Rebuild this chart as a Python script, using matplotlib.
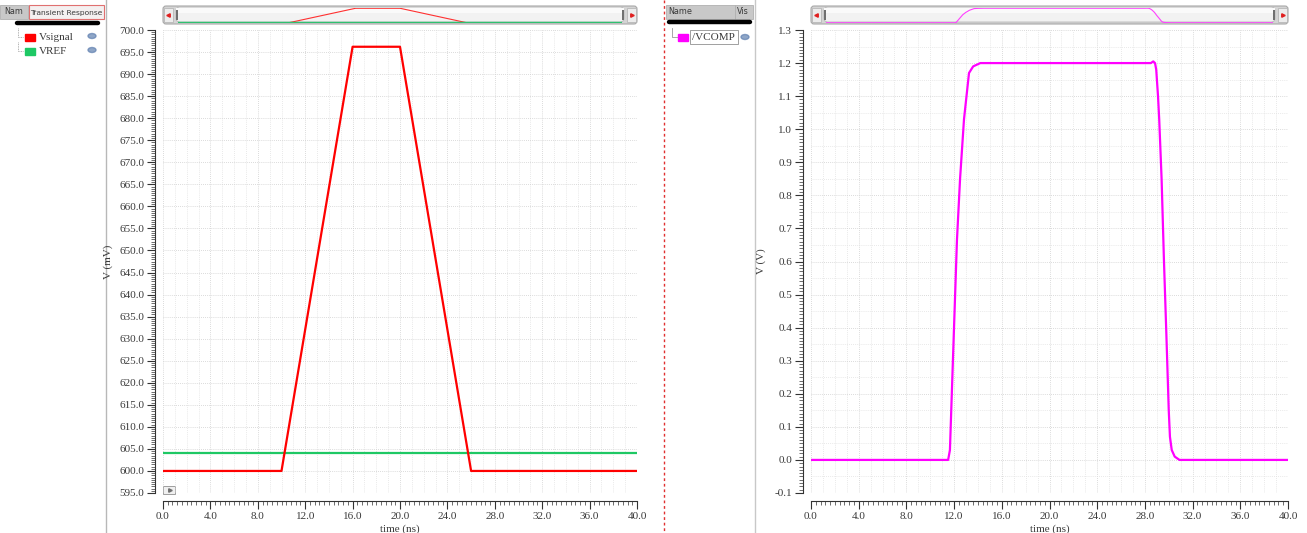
import matplotlib
matplotlib.use("Agg")
import matplotlib.pyplot as plt
from matplotlib.patches import Rectangle, FancyBboxPatch, Ellipse
from matplotlib.ticker import MultipleLocator, AutoMinorLocator, FormatStrFormatter

# ---------------- data ----------------
t_sig = [0.0, 10.0, 16.0, 20.0, 26.0, 40.0]
v_sig = [600.0, 600.0, 696.2, 696.2, 600.0, 600.0]          # mV
t_ref = [0.0, 40.0]
v_ref = [604.0, 604.0]                                      # mV
t_comp = [0.0, 11.5, 11.65, 11.9, 12.24, 12.5, 12.83, 13.25, 13.6, 14.2,
          28.5, 28.7, 28.85, 28.95, 29.1, 29.2, 29.4, 29.6, 29.8, 30.0,
          30.1, 30.25, 30.5, 30.9, 40.0]
v_comp = [0.0, 0.0, 0.03, 0.30, 0.665, 0.85, 1.03, 1.17, 1.19, 1.2,
          1.2, 1.205, 1.2, 1.18, 1.10, 1.03, 0.85, 0.60, 0.38, 0.15,
          0.07, 0.03, 0.01, 0.0, 0.0]
left_names = ["Vsignal", "VREF"]
left_colors = ["#ff0000", "#1ec864"]
right_names = ["/VCOMP"]
right_colors = ["#ff00ff"]

W, H = 1307, 533
plt.rcParams['font.family'] = ['Liberation Serif', 'DejaVu Serif']
fig = plt.figure(figsize=(W / 100, H / 100), dpi=100)
fig.patch.set_facecolor("white")

def rect(x0, y0, x1, y1):
    return [x0 / W, 1 - y1 / H, (x1 - x0) / W, (y1 - y0) / H]

# overlay for decorations (pixel coordinates)
ov = fig.add_axes([0, 0, 1, 1])
ov.axis('off')

TXT = "#3a3a3a"
FS = 8

# ---- separators ----
ov.plot([106, 106], [0, H], color="#b8b8b8", lw=1)
ov.plot([664, 664], [0, H], color="#e03030", lw=1, ls=(0, (2, 2)))
ov.plot([755, 755], [0, H], color="#c8c8c8", lw=1)

# ---- left legend panel ----
ov.add_patch(Rectangle((0, 5), 28, 14, fc="#c8c8c8", ec="#b0b0b0", lw=0.6))
ov.text(14, 12, "Nam", fontsize=5.8, ha="center", va="center", color=TXT, family="DejaVu Sans")
ov.add_patch(Rectangle((29, 5), 75, 14, fc="#f4f0f0", ec="#e07070", lw=0.8))
ov.text(66.5, 12.5, "Transient Response", fontsize=5.4, ha="center", va="center", color=TXT, family="DejaVu Sans")
ov.plot([17, 98], [23, 23], color="black", lw=3.2, solid_capstyle="round")
for i, (nm, c) in enumerate(zip(left_names, left_colors)):
    y = 37 + i * 14
    ov.plot([18, 18, 23], [y - 9, y, y], color="#999999", lw=0.6, ls=(0, (1, 1)))
    ov.add_patch(Rectangle((25, y - 3.5), 10, 7, fc=c, ec=c))
    ov.text(39, y, nm, fontsize=FS, va="center", ha="left", color=TXT)
    ov.add_patch(Ellipse((92, y - 1), 8, 5, fc="#6080b0", ec="#6080b0", alpha=0.7))

# ---- right legend panel ----
ov.add_patch(Rectangle((666, 5), 69, 14, fc="#c8c8c8", ec="#b0b0b0", lw=0.6))
ov.text(668, 12, "Name", fontsize=5.8, ha="left", va="center", color=TXT, family="DejaVu Sans")
ov.add_patch(Rectangle((735, 5), 18, 14, fc="#c8c8c8", ec="#b0b0b0", lw=0.6))
ov.text(737, 12, "Vis", fontsize=5.8, ha="left", va="center", color=TXT, family="DejaVu Sans")
ov.plot([669, 750], [22, 22], color="black", lw=3.2, solid_capstyle="round")
for i, (nm, c) in enumerate(zip(right_names, right_colors)):
    y = 37 + i * 14
    ov.plot([672, 672, 677], [y - 9, y, y], color="#999999", lw=0.6)
    ov.add_patch(Rectangle((678, y - 3.5), 10, 7, fc=c, ec=c))
    ov.add_patch(Rectangle((690, y - 7), 48, 14, fc="white", ec="#909090", lw=0.6))
    ov.text(692, y, nm, fontsize=FS, va="center", ha="left", color=TXT)
    ov.add_patch(Ellipse((745, y), 8, 5, fc="#6080b0", ec="#6080b0", alpha=0.7))

# ---- scroll bars ----
def scrollbar(x0, x1):
    ov.add_patch(FancyBboxPatch((x0, 6), x1 - x0, 18, boxstyle="round,pad=0,rounding_size=3",
                                fc="#d4d4d4", ec="#a8a8a8", lw=0.8))
    ov.add_patch(FancyBboxPatch((x0 + 13, 7), x1 - x0 - 26, 15, boxstyle="round,pad=0,rounding_size=4",
                                fc="#f2f2f2", ec="#b8b8b8", lw=0.6))
    ov.add_patch(Rectangle((x0 + 13, 8), x1 - x0 - 26, 5, fc="#fafafa", ec="none"))
    ov.add_patch(Rectangle((x0 + 1, 8), 9, 14, fc="#ececec", ec="#b0b0b0", lw=0.5))
    ov.add_patch(Rectangle((x1 - 10, 8), 9, 14, fc="#ececec", ec="#b0b0b0", lw=0.5))
    ov.plot([x0 + 5], [15], marker="<", ms=2.5, color="#e02020")
    ov.plot([x1 - 5], [15], marker=">", ms=2.5, color="#e02020")
    ov.add_patch(Rectangle((x0 + 13, 10), 2, 10, fc="#707070", ec="none"))
    ov.add_patch(Rectangle((x1 - 15, 10), 2, 10, fc="#707070", ec="none"))

scrollbar(163, 637)
scrollbar(811, 1288)

# play button at bottom-left of left plot
ov.add_patch(Rectangle((163, 486), 12, 8, fc="#f0f0f0", ec="#909090", lw=0.6))
ov.plot([169.5], [490], marker=">", ms=2.5, color="#707070")

ov.set_xlim(0, W)
ov.set_ylim(H, 0)

# overview axes in scroll bars
o1 = fig.add_axes(rect(178, 8, 622, 23))
o1.plot(t_sig, v_sig, color="#ff3030", lw=0.8)
o1.plot(t_ref, v_ref, color="#30c070", lw=1.0)
o1.set_xlim(0, 40); o1.set_ylim(598, 698)
o1.axis('off')
o2 = fig.add_axes(rect(826, 8, 1273, 23))
o2.plot(t_comp, v_comp, color="#ff40ff", lw=0.8)
o2.set_xlim(0, 40); o2.set_ylim(-0.02, 1.22)
o2.axis('off')

# ---------------- main plots ----------------
def style(ax, ylab, ymaj, ydec, ylab_x):
    ax.set_facecolor("none")
    ax.set_xlim(0, 40)
    ax.xaxis.set_major_locator(MultipleLocator(4))
    ax.xaxis.set_minor_locator(AutoMinorLocator(10))
    ax.yaxis.set_major_locator(MultipleLocator(ymaj))
    ax.yaxis.set_minor_locator(AutoMinorLocator(10))
    ax.xaxis.set_major_formatter(FormatStrFormatter('%.1f'))
    ax.yaxis.set_major_formatter(FormatStrFormatter('%.' + str(ydec) + 'f'))
    for s in ('top', 'right'):
        ax.spines[s].set_visible(False)
    for s in ('left', 'bottom'):
        ax.spines[s].set_position(('outward', 6))
        ax.spines[s].set_color("#333333")
        ax.spines[s].set_linewidth(0.8)
    ax.tick_params(which='major', length=6, width=0.8, labelsize=FS, colors="#333333", pad=1.5)
    ax.tick_params(which='minor', length=3, width=0.5, colors="#333333")
    ax.tick_params(axis='both', which='major', labelcolor=TXT)
    ax.set_xlabel("time (ns)", fontsize=FS, color=TXT)
    ax.set_ylabel(ylab, fontsize=FS, color=TXT)
    ax.xaxis.set_label_coords(0.5, -0.067)
    ax.yaxis.set_label_coords(ylab_x, 0.5)
    ax.set_axisbelow(True)

ax1 = fig.add_axes(rect(163, 30, 637, 493))
ax1.plot(t_ref, v_ref, color=left_colors[1], lw=1.6)
ax1.plot(t_sig, v_sig, color=left_colors[0], lw=1.6)
ax1.set_ylim(595, 700)
style(ax1, "V (mV)", 5, 1, (113 - 163) / 474)
for x in range(0, 41):
    ax1.axvline(x, color="#cfcfcf" if x % 4 == 0 else "#e2e2e2", lw=0.6, ls=(0, (1, 1.5)), zorder=0)
for y in range(595, 701, 5):
    ax1.axhline(y, color="#cfcfcf", lw=0.6, ls=(0, (1, 1.5)), zorder=0)

ax2 = fig.add_axes(rect(811, 30, 1288, 493))
ax2.plot(t_comp, v_comp, color=right_colors[0], lw=1.6)
ax2.set_ylim(-0.1, 1.3)
style(ax2, "V (V)", 0.1, 1, (766 - 811) / 477)
for x in range(0, 41):
    ax2.axvline(x, color="#cfcfcf" if x % 4 == 0 else "#e2e2e2", lw=0.6, ls=(0, (1, 1.5)), zorder=0)
for k in range(-2, 27):
    y = k * 0.05
    ax2.axhline(y, color="#cfcfcf" if k % 2 == 0 else "#e2e2e2", lw=0.6, ls=(0, (1, 1.5)), zorder=0)

fig.savefig("out.png", dpi=100)
